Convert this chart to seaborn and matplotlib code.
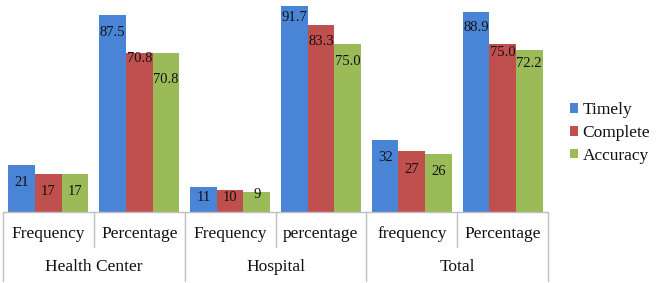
import matplotlib
matplotlib.use("Agg")
import matplotlib.pyplot as plt
import matplotlib.transforms as mtransforms
from matplotlib.font_manager import FontProperties
import seaborn as sns
import pandas as pd

# ---- data ----
sub_labels = ["Frequency", "Percentage", "Frequency", "percentage", "frequency", "Percentage"]
group_labels = ["Health Center", "Hospital", "Total"]
series = ["Timely", "Complete", "Accuracy"]
timely = [21, 87.5, 11, 91.7, 32, 88.9]
complete = [17, 70.8, 10, 83.3, 27, 75.0]
accuracy = [17, 70.8, 9, 75.0, 26, 72.2]
label_text = {
    "Timely": ["21", "87.5", "11", "91.7", "32", "88.9"],
    "Complete": ["17", "70.8", "10", "83.3", "27", "75.0"],
    "Accuracy": ["17", "70.8", "9", "75.0", "26", "72.2"],
}

# ---- style ----
colors = ["#4a84d6", "#c0504d", "#9bbb59"]
label_drop_px = {  # distance of label centre below bar top (pixels)
    "Timely": [18, 17.5, 10, 11, 17, 15],
    "Complete": [18, 5, 7.5, 17, 18, 9],
    "Accuracy": [18, 26, 3, 18, 18, 14],
}
serif = ["Liberation Serif", "DejaVu Serif"]
line_col = "#bfbfbf"

keys = [f"c{i}" for i in range(len(sub_labels))]
rows = []
for name, vals in zip(series, [timely, complete, accuracy]):
    for k, v in zip(keys, vals):
        rows.append({"cat": k, "series": name, "value": v})
df = pd.DataFrame(rows)

sns.set_theme(style="white")
plt.rcParams["font.family"] = serif

W, H = 660, 283
fig = plt.figure(figsize=(W / 100, H / 100), dpi=100)
ax_left, ax_right, ax_base, ax_top = 3, 548, 212, 0
ax = fig.add_axes([ax_left / W, 1 - ax_base / H, (ax_right - ax_left) / W, (ax_base - ax_top) / H])

sns.barplot(data=df, x="cat", y="value", hue="series", order=keys, hue_order=series,
            palette=colors, width=0.88, linewidth=0, saturation=1, ax=ax, legend=True)

ax.set_ylim(0, 94.4)
ax.set_xlim(-0.5, len(keys) - 0.5)
for s in ax.spines.values():
    s.set_visible(False)
ax.set_yticks([])
ax.set_xticks([])
ax.set_xlabel("")
ax.set_ylabel("")

# data labels
for cont, name in zip(ax.containers, series):
    for bar, txt, drop in zip(cont, label_text[name], label_drop_px[name]):
        x = bar.get_x() + bar.get_width() / 2
        y = bar.get_height()
        ax.annotate(txt, (x, y), xytext=(0, -drop), textcoords="offset pixels",
                    ha="center", va="center", fontsize=10.5, color="#111111",
                    family=serif)

# category axis table
trans = mtransforms.blended_transform_factory(ax.transData, ax.transAxes)
hpx = ax_base - ax_top
n = len(keys)
ax.plot([-0.5, n - 0.5], [0, 0], color=line_col, lw=1, transform=trans, clip_on=False)
for i in range(n + 1):
    xb = i - 0.5
    if i % 2 == 0:
        y_end = -(H - ax_base - 2) / hpx
    else:
        y_end = -35 / hpx
    ax.plot([xb, xb], [0, y_end], color=line_col, lw=1, transform=trans, clip_on=False)

for i, lab in enumerate(sub_labels):
    ax.text(i, -22 / hpx, lab, transform=trans, ha="center", va="center",
            fontsize=12.5, color="#111111", family=serif)
for g, lab in enumerate(group_labels):
    ax.text(2 * g + 0.5, -55 / hpx, lab, transform=trans, ha="center", va="center",
            fontsize=12.5, color="#111111", family=serif)

# legend
handles, labels = ax.get_legend_handles_labels()
if ax.get_legend() is not None:
    ax.get_legend().remove()
leg_font = FontProperties(family="Liberation Serif", size=12.5)
leg = fig.legend(handles, labels, loc="center left", bbox_to_anchor=(570 / W, 1 - 133 / H),
                 frameon=False,
                 handlelength=0.48, handleheight=0.48, handletextpad=0.25,
                 labelspacing=0.38, borderpad=0, borderaxespad=0,
                 prop=leg_font)
for t in leg.get_texts():
    t.set_fontproperties(FontProperties(family="Liberation Serif", size=12.5))
    t.set_color("#111111")

fig.savefig("out.png", dpi=100)
